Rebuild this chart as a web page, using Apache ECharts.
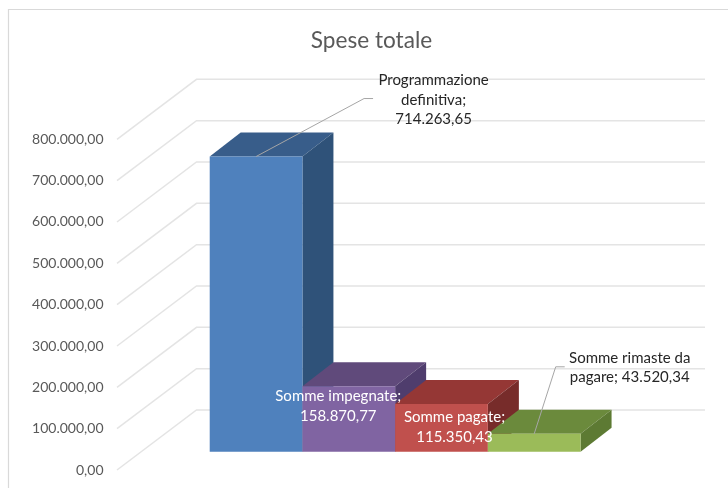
<!DOCTYPE html>
<html>
<head>
<meta charset="utf-8">
<style>html,body{margin:0;padding:0;background:#fff}#c{width:728px;height:488px}</style>
<script src="https://cdn.jsdelivr.net/npm/echarts@6/dist/echarts.min.js"></script>
</head>
<body>
<div id="c"></div>
<script>
const chartTitle = 'Spese totale';
const categories = ['Programmazione definitiva', 'Somme impegnate', 'Somme pagate', 'Somme rimaste da pagare'];
const values = [714263.65, 158870.77, 115350.43, 43520.34];
const tickValues = [0, 100000, 200000, 300000, 400000, 500000, 600000, 700000, 800000];
const labelLines = [
  ['Programmazione', 'definitiva;'],
  ['Somme impegnate;'],
  ['Somme pagate;'],
  ['Somme rimaste da', 'pagare;']
];
const frontColors = ['#4f81bd', '#8064a2', '#c0504d', '#9bbb59'];
const topColors = ['#385d8a', '#604a7b', '#953735', '#6b8a3c'];
const sideColors = ['#2f5279', '#4f3d6d', '#772c2a', '#5d7a33'];

// Layout of the pseudo-3D box, in pixels
const wallDx = 79.5, wallDy = -60, wallRight = 705;
const barLift = 18.2, barDx = 31, barDy = -24;
// Label placement relative to the bar's front-top-centre
const labelPlace = [
  {dx: 177.5, dy: -56.5, fill: '#262626', line: [[108, -58], [117, -58]]},
  {dx: -10.5, dy: 20, fill: '#ffffff', line: null},
  {dx: 13, dy: 23, fill: '#ffffff', line: null},
  {dx: 95.5, dy: -66, fill: '#262626', line: [[21.5, -67], [30.5, -67]]}
];

function fmt(v) {
  const p = v.toFixed(2).split('.');
  return p[0].replace(/\B(?=(\d{3})+(?!\d))/g, '.') + ',' + p[1];
}
const FONT = 'Lato, "Open Sans", sans-serif';

const chart = echarts.init(document.getElementById('c'), null, {renderer: 'canvas'});
chart.setOption({
  animation: false,
  backgroundColor: '#fff',
  title: {
    text: chartTitle, left: 366.5, top: 24, textAlign: 'center',
    textStyle: {fontFamily: FONT, fontSize: 22.6, fontWeight: 'normal', color: '#595959'}
  },
  graphic: [{
    type: 'polyline', silent: true,
    shape: {points: [[8.5, 488], [8.5, 9.5], [728, 9.5]]},
    style: {fill: null, stroke: '#d9d9d9', lineWidth: 1.2}
  }],
  grid: {left: 117, top: 139.3, width: 509, height: 330.7},
  xAxis: {type: 'value', show: false, min: -1, max: 4.49},
  yAxis: {
    type: 'value', min: 0, max: 800000, interval: 100000,
    axisLine: {show: false}, axisTick: {show: false}, splitLine: {show: false},
    axisLabel: {
      margin: 13.5, fontFamily: FONT, fontSize: 14, color: '#595959', padding: [3, 0, 0, 0],
      formatter: v => fmt(v)
    }
  },
  series: [
    {
      type: 'custom', clip: false, silent: true, z: 1,
      data: tickValues.map(t => [-1, t]),
      renderItem(params, api) {
        const p = api.coord([api.value(0), api.value(1)]);
        return {
          type: 'polyline',
          shape: {points: [p, [p[0] + wallDx, p[1] + wallDy], [wallRight, p[1] + wallDy]]},
          style: {fill: null, stroke: '#e4e4e4', lineWidth: 1.5}
        };
      }
    },
    {
      type: 'custom', clip: false, silent: true, z: 2,
      data: values.map((v, i) => [i, v]),
      renderItem(params, api) {
        const i = api.value(0);
        const a = api.coord([i, api.value(1)]);
        const b = api.coord([i + 1, 0]);
        const x0 = a[0], x1 = b[0], y0 = a[1] - barLift, y1 = b[1] - barLift;
        const poly = (pts, fill) => ({type: 'polygon', shape: {points: pts}, style: {fill}});
        return {
          type: 'group',
          children: [
            poly([[x0, y0], [x1, y0], [x1 + barDx, y0 + barDy], [x0 + barDx, y0 + barDy]], topColors[i]),
            poly([[x1, y0], [x1 + barDx, y0 + barDy], [x1 + barDx, y1 + barDy], [x1, y1]], sideColors[i]),
            poly([[x0, y0], [x1, y0], [x1, y1], [x0, y1]], frontColors[i])
          ]
        };
      }
    },
    {
      type: 'custom', clip: false, silent: true, z: 3,
      data: values.map((v, i) => [i, v]),
      renderItem(params, api) {
        const i = api.value(0), v = api.value(1);
        const a = api.coord([i + 0.5, v]);
        const cx = a[0], cy = a[1] - barLift;
        const pl = labelPlace[i];
        const lines = labelLines[i];
        const last = lines[lines.length - 1];
        const text = (i === 3 ? [lines[0], last + ' ' + fmt(v)] : lines.concat([fmt(v)])).join('\n');
        const children = [];
        if (pl.line) {
          children.push({
            type: 'polyline',
            shape: {points: [[cx, cy]].concat(pl.line.map(q => [cx + q[0], cy + q[1]]))},
            style: {fill: null, stroke: '#a6a6a6', lineWidth: 1}
          });
        }
        children.push({
          type: 'text',
          style: {
            text, x: cx + pl.dx, y: cy + pl.dy, align: 'center', verticalAlign: 'middle',
            fill: pl.fill, font: '15px ' + FONT, lineHeight: 19.5
          }
        });
        return {type: 'group', children};
      }
    }
  ]
});
</script>
</body>
</html>
